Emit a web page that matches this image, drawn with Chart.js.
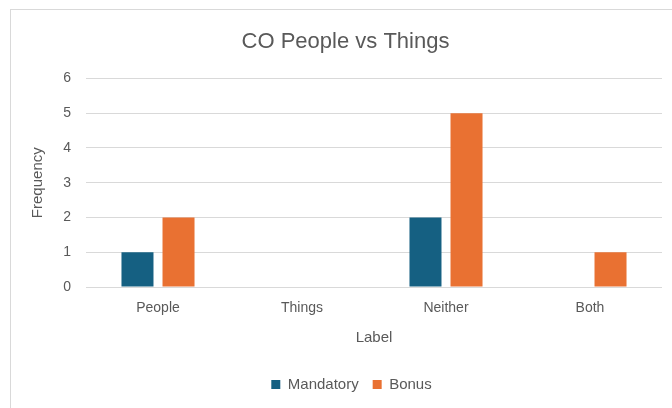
<!DOCTYPE html>
<html>
<head>
<meta charset="utf-8">
<script src="https://cdn.jsdelivr.net/npm/chart.js@4"></script>
<style>
  html, body { margin: 0; padding: 0; background: #ffffff; }
  #wrap { position: relative; width: 672px; height: 408px; }
</style>
</head>
<body>
<div id="wrap"><canvas id="c" width="672" height="408"></canvas></div>
<script>
const categories = ["People", "Things", "Neither", "Both"];
const mandatory = [1, 0, 2, 0];
const bonus = [2, 0, 5, 1];
const yTicks = [0, 1, 2, 3, 4, 5, 6];

const textColor = "#595959";
const fontFamily = "'Liberation Sans', Arial, sans-serif";

const frame = {
  id: "frame",
  beforeDraw(chart) {
    const ctx = chart.ctx;
    ctx.save();
    ctx.fillStyle = "#ffffff";
    ctx.fillRect(0, 0, chart.width, chart.height);
    ctx.strokeStyle = "#d9d9d9";
    ctx.lineWidth = 1;
    ctx.strokeRect(10.5, 9.5, 700, 420);
    ctx.restore();
  },
  afterLayout(chart) {
    if (chart.legend) {
      chart.legend.left += 6;
      chart.legend.right += 6;
      if (chart.legend.adjustHitBoxes) chart.legend.adjustHitBoxes();
    }
  }
};

new Chart(document.getElementById("c"), {
  type: "bar",
  data: {
    labels: categories,
    datasets: [
      { label: "Mandatory", data: mandatory, backgroundColor: "#156082" },
      { label: "Bonus", data: bonus, backgroundColor: "#E97132" }
    ]
  },
  options: {
    responsive: false,
    animation: false,
    devicePixelRatio: 1,
    categoryPercentage: 0.57,
    barPercentage: 0.78,
    layout: { padding: { left: 29, right: 10, top: 0, bottom: 6 } },
    plugins: {
      title: {
        display: true,
        text: "CO People vs Things",
        color: textColor,
        font: { family: fontFamily, size: 22, weight: "normal" },
        padding: { top: 29, bottom: 23 }
      },
      legend: {
        display: true,
        position: "bottom",
        labels: {
          color: textColor,
          font: { family: fontFamily, size: 15 },
          boxWidth: 9,
          boxHeight: 9,
          padding: 14
        }
      },
      tooltip: { enabled: false }
    },
    scales: {
      x: {
        grid: { display: false, drawTicks: false },
        border: { display: false },
        ticks: { color: textColor, font: { family: fontFamily, size: 14 }, padding: 13 },
        title: { display: true, text: "Label", color: textColor, font: { family: fontFamily, size: 15 }, padding: { top: 10, bottom: 16 } },
        afterFit(scale) { scale.height = 76; }
      },
      y: {
        min: 0,
        max: 6,
        afterBuildTicks(scale) { scale.ticks = yTicks.map(v => ({ value: v })); },
        grid: { color: "#d9d9d9", drawTicks: false },
        border: { display: false },
        ticks: { color: textColor, font: { family: fontFamily, size: 14 }, padding: 15, stepSize: 1 },
        title: { display: true, text: "Frequency", color: textColor, font: { family: fontFamily, size: 15 }, padding: { top: 0, bottom: 14 } },
        afterFit(scale) { scale.width = 57; }
      }
    }
  },
  plugins: [frame]
});
</script>
</body>
</html>
